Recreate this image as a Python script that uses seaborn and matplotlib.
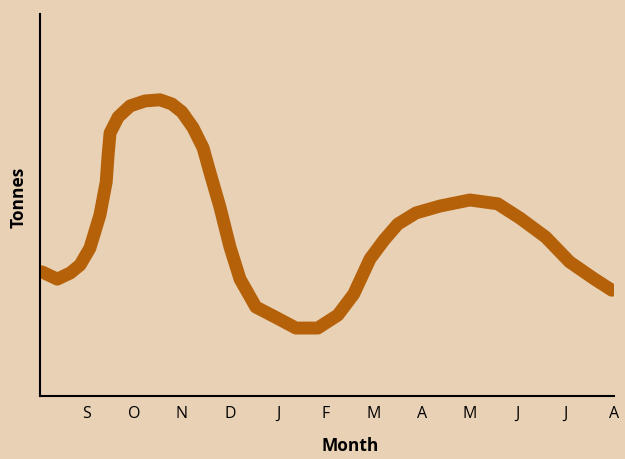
import seaborn as sns
import matplotlib.pyplot as plt
import pandas as pd

sns.set_style("white")
plt.rcParams['font.family'] = ['Open Sans', 'DejaVu Sans']

# Month position (0 = Aug) and tonnes (relative scale)
month_pos = [0.08, 0.40, 0.67, 0.875, 1.08, 1.29, 1.42, 1.46, 1.50, 1.67, 1.92,
             2.23, 2.54, 2.79, 3.00, 3.23, 3.44, 3.58, 3.79, 4.00, 4.21, 4.54,
             4.94, 5.375, 5.83, 6.25, 6.58, 6.92, 7.21, 7.50, 7.875, 8.375,
             9.00, 9.58, 10.04, 10.58, 11.08, 11.60, 11.96]
tonnes = [32.5, 30.6, 32.2, 34.3, 38.7, 47.4, 56.0, 63.1, 68.8, 73.0, 75.9,
          77.2, 77.5, 76.4, 74.3, 70.2, 64.9, 58.6, 49.5, 39.0, 30.6, 23.3,
          20.7, 17.8, 17.8, 21.2, 26.7, 35.9, 40.8, 45.0, 47.9, 49.7,
          51.3, 50.3, 46.6, 41.6, 35.1, 30.6, 27.7]
month_labels = ["S", "O", "N", "D", "J", "F", "M", "A", "M", "J", "J", "A"]

df = pd.DataFrame({"month": month_pos, "tonnes": tonnes})

bg = "#E8D1B5"
fig = plt.figure(figsize=(6.25, 4.59), dpi=100, facecolor=bg)
ax = fig.add_axes([0.064, 0.137, 0.918, 0.833], facecolor=bg)

sns.lineplot(data=df, x="month", y="tonnes", color="#B5610A", linewidth=9.3,
             sort=False, ax=ax, solid_capstyle="round", solid_joinstyle="round")

ax.set_xlim(0.04, 12.0)
ax.set_ylim(0, 100)
ax.set_xticks(range(1, 13))
ax.set_xticklabels(month_labels, fontsize=11.5, color="black")
ax.set_yticks([])
ax.tick_params(axis="x", length=2, width=1, color="black", pad=5)

for side in ["top", "right"]:
    ax.spines[side].set_visible(False)
for side in ["left", "bottom"]:
    ax.spines[side].set_color("black")
    ax.spines[side].set_linewidth(1.5)

ax.set_xlabel("Month", fontsize=12.5, fontweight="bold", color="black")
ax.set_ylabel("Tonnes", fontsize=12.5, fontweight="bold", color="black")
ax.xaxis.set_label_coords(0.54, -0.107)
ax.yaxis.set_label_coords(-0.022, 0.52)

fig.savefig("out.png", dpi=100, facecolor=bg)
plt.close()
